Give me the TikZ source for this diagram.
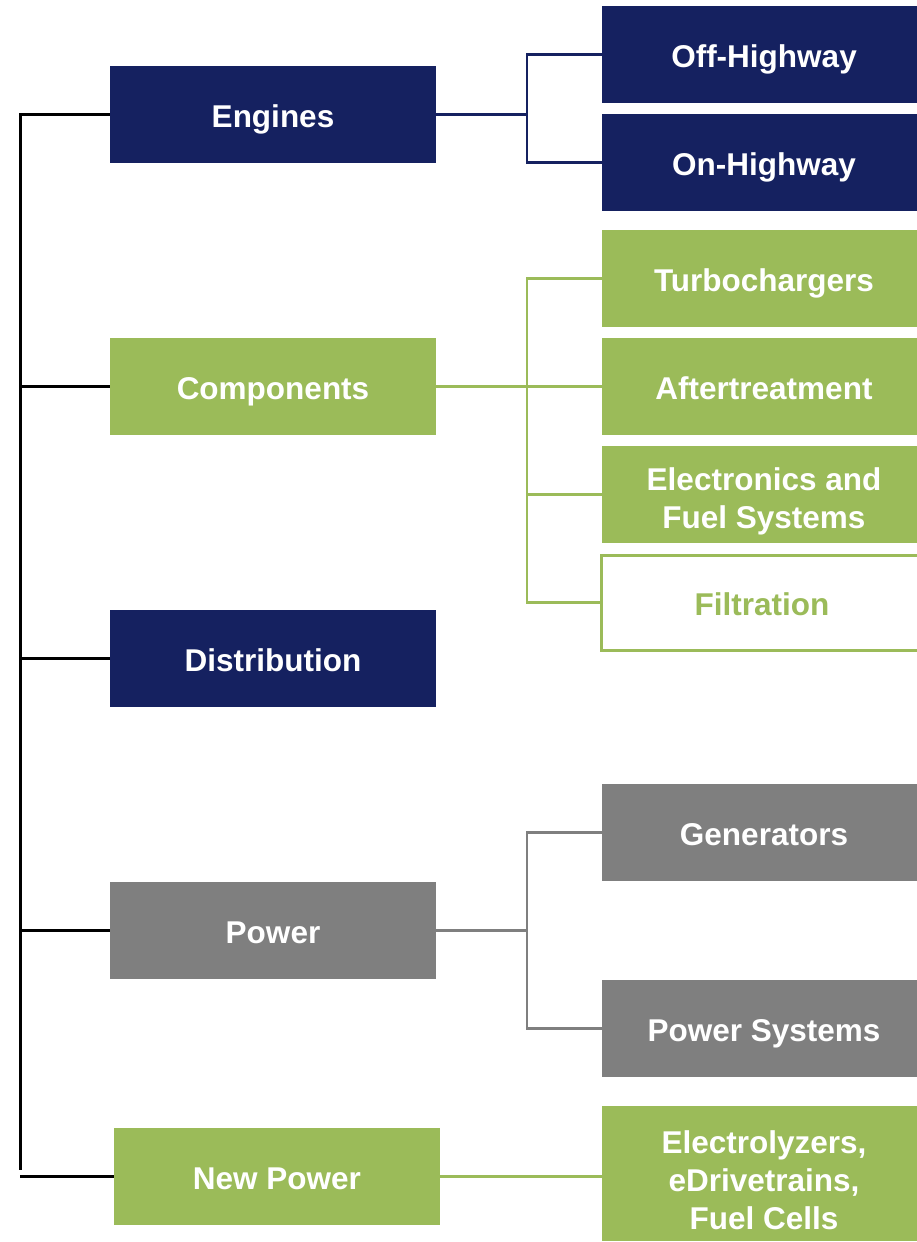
\documentclass[tikz,border=0pt]{standalone}
\usepackage{fontspec}
\setmainfont{Liberation Sans}
\definecolor{navy}{RGB}{21,33,96}
\definecolor{leaf}{RGB}{155,187,89}
\definecolor{slate}{RGB}{127,127,127}
\tikzset{
  unit/.style={minimum width=326pt, minimum height=97pt, inner sep=0pt, text=white,
    align=center, text height=25pt, text depth=0pt,
    font=\fontsize{31.5}{37.5}\selectfont\bfseries},
  part/.style={unit, minimum width=324pt},
  trunk/.style={line width=3pt, black},
  branch/.style={line width=2.5pt},
}
\begin{document}
\begin{tikzpicture}[x=1pt, y=-1pt]
        \useasboundingbox (0,0) rectangle (916,1242);

        % business units
        \node[unit, fill=navy] (eng) at (273,114.5) {Engines};
        \node[unit, fill=leaf] (comp) at (273,386.5) {Components};
        \node[unit, fill=navy] (dist) at (273,658.5) {Distribution};
        \node[unit, fill=slate] (pow) at (273,930.5) {Power};
        \node[unit, fill=leaf] (newpow) at (277,1176.5) {New Power};

        % products
        \node[part, fill=navy] (offhw) at (764,54.5) {Off-Highway};
        \node[part, fill=navy] (onhw) at (764,162.5) {On-Highway};
        \node[part, fill=leaf] (turbo) at (764,278.5) {Turbochargers};
        \node[part, fill=leaf] (after) at (764,386.5) {Aftertreatment};
        \node[part, fill=leaf, text height=67pt] (elec) at (764,494.5) {Electronics and\\Fuel Systems};
        \node[part, draw=leaf, line width=3pt, fill=white, text=leaf,
              minimum width=321pt, minimum height=95pt] (filt) at (762,602.5) {Filtration};
        \node[part, fill=slate] (gen) at (764,832.5) {Generators};
        \node[part, fill=slate] (powsys) at (764,1028.5) {Power Systems};
        \node[part, fill=leaf, minimum height=135pt, text height=111pt,
              font=\fontsize{31.5}{38}\selectfont\bfseries] (fuel) at (764,1173.5)
              {Electrolyzers,\\eDrivetrains,\\Fuel Cells};

        % left spine
        \coordinate (top) at (20,113);
        \coordinate (bot) at (20,1170);
        \draw[trunk] (top) -- (bot);
        \foreach \n in {eng, comp, dist, pow, newpow}
        \draw[trunk] (\n.west) -- (\n.west -| top);

        % forks
        \coordinate (engfork) at (527,114.5);
        \coordinate (compfork) at (527,386.5);
        \coordinate (powfork) at (527,930.5);

        \draw[branch, navy] (eng.east) -- (engfork);
        \draw[branch, navy] (offhw.west) -| (engfork) |- (onhw.west);

        \draw[branch, leaf] (comp.east) -- (after.west);
        \draw[branch, leaf] (turbo.west) -| (compfork) |- (filt.west);
        \draw[branch, leaf] (compfork) |- (elec.west);

        \draw[branch, slate] (pow.east) -- (powfork);
        \draw[branch, slate] (gen.west) -| (powfork) |- (powsys.west);

        \draw[branch, leaf] (newpow.east) -- (newpow.east -| fuel.west);
\end{tikzpicture}
\end{document}
